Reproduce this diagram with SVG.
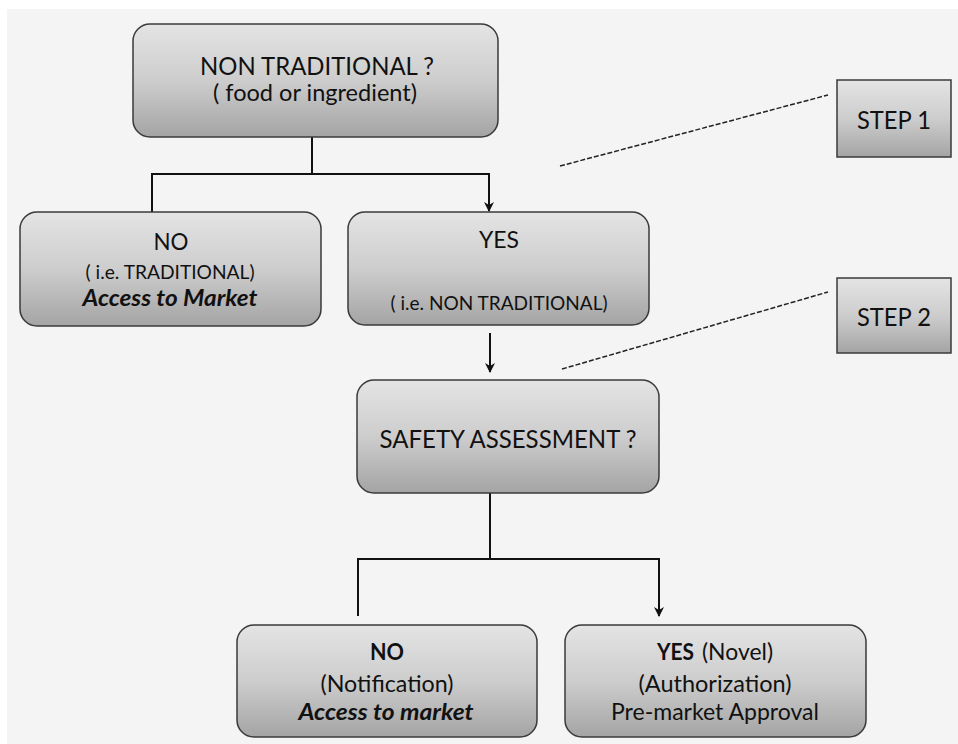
<svg xmlns="http://www.w3.org/2000/svg" width="958" height="744" viewBox="0 0 958 744">
<defs>
<linearGradient id="g" x1="0" y1="0" x2="0" y2="1">
<stop offset="0" stop-color="#e4e4e4"/>
<stop offset="0.5" stop-color="#cdcdcd"/>
<stop offset="1" stop-color="#a4a4a4"/>
</linearGradient>
<marker id="arr" viewBox="0 0 10 10" refX="9" refY="5" markerWidth="10" markerHeight="10" markerUnits="userSpaceOnUse" orient="auto">
<path d="M0,0 L10,5 L0,10 L3,5 Z" fill="#111"/>
</marker>
<style>
.box{fill:url(#g);stroke:#3a3a3a;stroke-width:1.5}
.t{font-family:Lato,"Liberation Sans",sans-serif;fill:#111;text-anchor:middle}
.c{fill:none;stroke:#111;stroke-width:2}
.d{fill:none;stroke:#222;stroke-width:1.5;stroke-dasharray:5 2}
</style>
</defs>
<rect x="0" y="0" width="958" height="744" fill="#ffffff"/>
<rect x="7" y="9" width="951" height="735" fill="#f4f4f4"/>
<g id="connectors">
<polyline class="c" points="312,137 312,174 152,174 152,212"/>
<polyline class="c" points="312,174 489,174 489,211" marker-end="url(#arr)"/>
<line class="c" x1="490" y1="333" x2="490" y2="372" marker-end="url(#arr)"/>
<polyline class="c" points="490,493 490,559 358,559 358,616"/>
<polyline class="c" points="490,559 659,559 659,616" marker-end="url(#arr)"/>
<line class="d" x1="560" y1="166" x2="828" y2="95"/>
<line class="d" x1="562" y1="369" x2="828" y2="292"/>
</g>
<g id="node-nontraditional">
<rect class="box" x="133" y="24" width="365" height="113" rx="17"/>
<text class="t" x="317" y="75" font-size="25" textLength="234" lengthAdjust="spacingAndGlyphs">NON TRADITIONAL ?</text>
<text class="t" x="315" y="101" font-size="23" textLength="204" lengthAdjust="spacingAndGlyphs">( food or ingredient)</text>
</g>
<g id="node-no1">
<rect class="box" x="20" y="212" width="301" height="114" rx="17"/>
<text class="t" x="171" y="250" font-size="24" textLength="35" lengthAdjust="spacingAndGlyphs">NO</text>
<text class="t" x="170" y="279" font-size="20" textLength="169" lengthAdjust="spacingAndGlyphs">( i.e. TRADITIONAL)</text>
<text class="t" x="170" y="306" font-size="22" font-weight="bold" font-style="italic" textLength="175" lengthAdjust="spacingAndGlyphs">Access to Market</text>
</g>
<g id="node-yes1">
<rect class="box" x="348" y="212" width="301" height="113" rx="17"/>
<text class="t" x="499" y="248" font-size="24" textLength="40" lengthAdjust="spacingAndGlyphs">YES</text>
<text class="t" x="499" y="310" font-size="20" textLength="217" lengthAdjust="spacingAndGlyphs">( i.e. NON TRADITIONAL)</text>
</g>
<g id="node-step1">
<rect class="box" x="837" y="80" width="114" height="77"/>
<text class="t" x="894" y="129" font-size="25" textLength="74" lengthAdjust="spacingAndGlyphs">STEP 1</text>
</g>
<g id="node-step2">
<rect class="box" x="837" y="278" width="114" height="75"/>
<text class="t" x="894" y="326" font-size="25" textLength="74" lengthAdjust="spacingAndGlyphs">STEP 2</text>
</g>
<g id="node-safety">
<rect class="box" x="357" y="380" width="302" height="113" rx="17"/>
<text class="t" x="508" y="448" font-size="25" textLength="257" lengthAdjust="spacingAndGlyphs">SAFETY ASSESSMENT ?</text>
</g>
<g id="node-no2">
<rect class="box" x="237" y="625" width="300" height="112" rx="17"/>
<text class="t" x="387" y="660" font-size="23" font-weight="bold" textLength="34" lengthAdjust="spacingAndGlyphs">NO</text>
<text class="t" x="387" y="692" font-size="23" textLength="133" lengthAdjust="spacingAndGlyphs">(Notification)</text>
<text class="t" x="386" y="720" font-size="23" font-weight="bold" font-style="italic" textLength="175" lengthAdjust="spacingAndGlyphs">Access to market</text>
</g>
<g id="node-yes2">
<rect class="box" x="565" y="625" width="301" height="112" rx="17"/>
<text class="t" x="675.5" y="660" font-size="23" font-weight="bold" textLength="37" lengthAdjust="spacingAndGlyphs">YES</text>
<text class="t" x="737.5" y="660" font-size="23" textLength="71" lengthAdjust="spacingAndGlyphs">(Novel)</text>
<text class="t" x="715" y="692" font-size="23" textLength="153" lengthAdjust="spacingAndGlyphs">(Authorization)</text>
<text class="t" x="715" y="720" font-size="23" textLength="208" lengthAdjust="spacingAndGlyphs">Pre-market Approval</text>
</g>
</svg>
